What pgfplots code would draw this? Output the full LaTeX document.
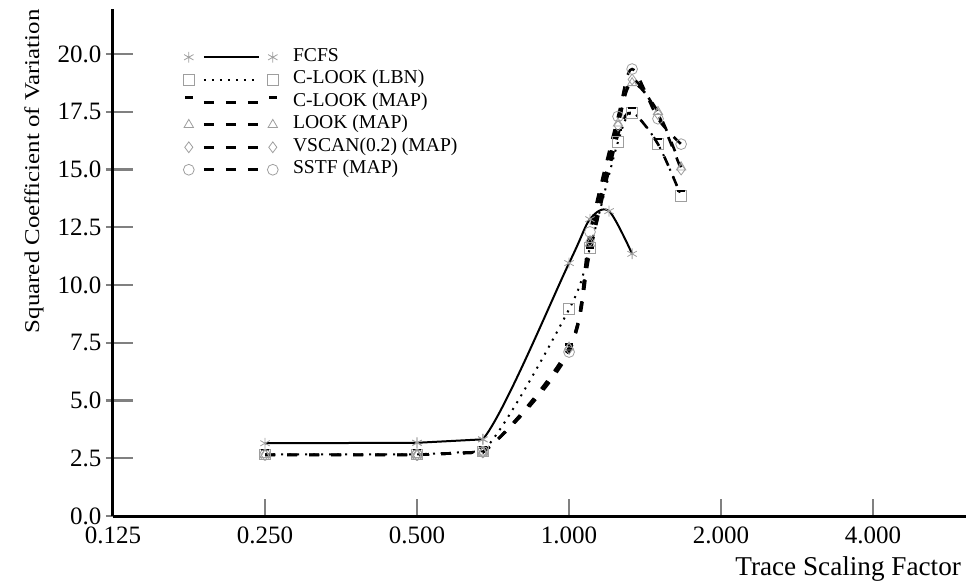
\documentclass[border=0pt]{standalone}
\usepackage{fontspec}
\setmainfont{Liberation Serif}
\usepackage{pgfplots}
\usepackage{pgfplotstable}
\pgfplotsset{compat=1.18}

\definecolor{markgray}{gray}{0.62}

% Squared coefficient of variation of response time vs. trace scaling factor
\pgfplotstableread{
x      y
0.25   3.15
0.5    3.17
0.675  3.32
1.0    10.95
1.1    12.85
1.2    13.20
1.333  11.35
}\fcfs
\pgfplotstableread{
x      y
0.25   2.67
0.5    2.67
0.675  2.80
1.0    8.95
1.1    11.60
1.25   16.20
1.333  17.45
1.5    16.10
1.667  13.85
}\clooklbn
\pgfplotstableread{
x      y
0.25   2.65
0.5    2.65
0.675  2.76
1.0    7.20
1.1    11.40
1.25   16.50
1.333  17.45
1.5    16.10
1.667  13.85
}\clookmap
\pgfplotstableread{
x      y
0.25   2.65
0.5    2.65
0.675  2.76
1.0    7.30
1.1    11.80
1.25   17.00
1.333  18.75
1.5    17.50
1.667  15.10
}\lookmap
\pgfplotstableread{
x      y
0.25   2.65
0.5    2.65
0.675  2.76
1.0    7.25
1.1    11.90
1.25   16.90
1.333  18.90
1.5    17.40
1.667  15.00
}\vscanmap
\pgfplotstableread{
x      y
0.25   2.65
0.5    2.65
0.675  2.78
1.0    7.10
1.1    12.30
1.25   17.30
1.333  19.35
1.5    17.20
1.667  16.10
}\sstfmap

\pgfplotsset{
  mk/.style={mark options={markgray, solid, line width=0.4pt, mark size=2.7pt}},
  % low-load plateau drawn straight; the rising branch is a smooth curve
  % (started one point early so its slope at the knee is natural, then clipped)
  flatpart/.style={sharp plot, skip coords between index={3}{99}},
  risepart/.style={smooth, tension=0.5, forget plot, skip coords between index={0}{1}},
  dashedline/.style={black, line width=1.3pt, dash pattern=on 5pt off 6pt},
}

% one series = plateau + clipped rising branch
\newcommand{\series}[3]{%
  \addplot[#1, flatpart] table {#2};
  \addlegendentry{#3}
  \begin{scope}
    \clip (axis cs:0.675,0) rectangle (axis cs:6.11,21.95);
    \addplot[#1, risepart] table {#2};
  \end{scope}
}

\begin{document}
\begin{tikzpicture}
\begin{axis}[
  name=ax,
  scale only axis,
  width=426.5pt, height=253.5pt,
  xmode=log, log basis x=2,
  xmin=0.125, xmax=6.11,
  ymin=0, ymax=21.95,
  axis x line*=bottom, axis y line*=left,
  axis line style={line width=1.5pt, -},
  xtick={0.25,0.5,1,2,4},
  xticklabels={0.250,0.500,1.000,2.000,4.000},
  extra x ticks={0.125},
  extra x tick labels={0.125},
  extra x tick style={xtick style={draw=none}},
  ytick={0,2.5,5,7.5,10,12.5,15,17.5,20},
  major tick length=13.5pt,
  tick align=inside,
  xtick style={line width=1.2pt, yscale=0.63},
  ytick style={line width=1.2pt, xshift=-3.5pt},
  yticklabel style={/pgf/number format/fixed, /pgf/number format/fixed zerofill,
    /pgf/number format/precision=1, xshift=-2.3pt},
  xticklabel style={yshift=-1.8pt},
  /pgf/number format/assume math mode=true,
  tick label style={font=\fontsize{12.5}{15}\selectfont},
  xlabel={Trace Scaling Factor},
  every axis x label/.style={at={(rel axis cs:1,0)}, anchor=base east,
    xshift=1pt, yshift=-29.5pt, font=\fontsize{13.6}{16}\selectfont},
  ylabel={Squared Coefficient of Variation},
  every axis y label/.style={at={(rel axis cs:0,0.68)}, xshift=-39.5pt, rotate=90,
    xscale=1.185, anchor=center, font=\fontsize{10.5}{13}\selectfont},
  legend cell align=left,
  legend style={at={(rel axis cs:0,1)}, anchor=north west, xshift=35pt, yshift=-18.3pt,
    draw=none, fill=none, inner sep=0pt, row sep=0pt,
    font=\fontsize{9.8}{11}\selectfont,
    nodes={inner sep=1pt, text height=6.5pt, text depth=2.75pt}},
  legend image code/.code={
    \draw[#1, mark=none] (7.5pt,0pt) -- (35pt,0pt);
    \draw[#1, only marks] plot coordinates {(0pt,0pt) (42pt,0pt)};
    \path (50.5pt,0pt);
  },
]
\series{black, line width=1pt, mark=asterisk, mk}{\fcfs}{FCFS}
\series{black, line width=1pt, dash pattern=on 1pt off 3pt, mark=square, mk}{\clooklbn}{C-LOOK (LBN)}
\series{dashedline, mark=-, mk, mark options={yshift=2.5pt}}{\clookmap}{C-LOOK (MAP)}
\series{dashedline, mark=triangle, mk}{\lookmap}{LOOK (MAP)}
\series{dashedline, mark=diamond, mk}{\vscanmap}{VSCAN(0.2) (MAP)}
\series{dashedline, mark=o, mk}{\sstfmap}{SSTF (MAP)}
\end{axis}
\pgfresetboundingbox
\path (ax.south west) ++(-56.5pt,-35pt) rectangle ++(484pt,293pt);
\end{tikzpicture}
\end{document}
